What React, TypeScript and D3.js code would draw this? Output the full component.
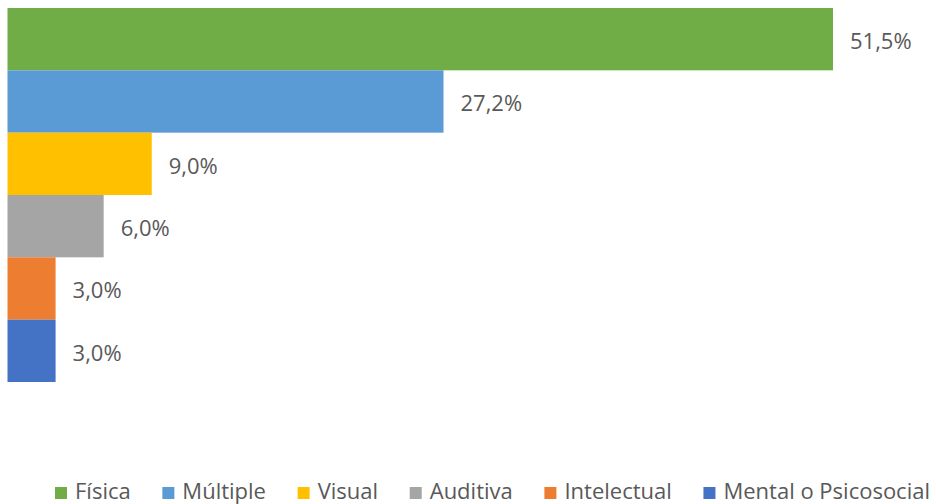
import React, { useEffect, useRef } from "react";
import * as d3 from "d3";

const categories = ["Física", "Múltiple", "Visual", "Auditiva", "Intelectual", "Mental o Psicosocial"];
const values = [51.5, 27.2, 9.0, 6.0, 3.0, 3.0];
const colors = ["#70AD47", "#5B9BD5", "#FFC000", "#A5A5A5", "#ED7D31", "#4472C4"];

const W = 936;
const H = 504;
const FONT = "'Open Sans', sans-serif";
const FS = 22;

export default function App() {
  const ref = useRef<SVGSVGElement | null>(null);
  useEffect(() => {
    const svg = d3.select(ref.current);
    svg.selectAll("*").remove();
    const x = d3.scaleLinear().domain([0, 51.5]).range([7.5, 833]);
    const y = d3.scaleBand<string>().domain(categories).range([8, 382]).padding(0);

    const data = categories.map((c, i) => ({ c, v: values[i], col: colors[i] }));

    svg.append("g").selectAll("rect").data(data).join("rect")
      .attr("x", x(0))
      .attr("y", (d) => y(d.c)!)
      .attr("width", (d) => x(d.v) - x(0))
      .attr("height", y.bandwidth())
      .attr("fill", (d) => d.col);

    svg.append("g").selectAll("text").data(data).join("text")
      .attr("x", (d) => x(d.v) + 17)
      .attr("y", (d) => y(d.c)! + y.bandwidth() / 2 + 2)
      .attr("dy", "0.35em")
      .attr("fill", "#595959")
      .attr("font-family", FONT)
      .attr("font-size", FS)
      .text((d) => d3.format(".1f")(d.v).replace(".", ",") + "%");

    const leg = svg.append("g");
    const items = leg.selectAll("g").data(data).join("g");
    items.append("rect").attr("width", 12).attr("height", 12).attr("y", 487).attr("fill", (d) => d.col);
    items.append("text")
      .attr("x", 20)
      .attr("y", 499)
      .attr("fill", "#595959")
      .attr("font-family", FONT)
      .attr("font-size", FS)
      .text((d) => d.c);
    const widths: number[] = [];
    items.each(function () {
      const t = d3.select(this).select("text").node() as SVGTextElement;
      widths.push(20 + t.getComputedTextLength());
    });
    const left = 55;
    const right = 930;
    const gap = (right - left - d3.sum(widths)) / (widths.length - 1);
    let cx = left;
    items.attr("transform", (_d, i) => {
      const t = `translate(${cx},0)`;
      cx += widths[i] + gap;
      return t;
    });
  }, []);
  return (
    <svg ref={ref} width={W} height={H} style={{ position: "absolute", left: 0, top: 0, background: "#fff" }} />
  );
}
